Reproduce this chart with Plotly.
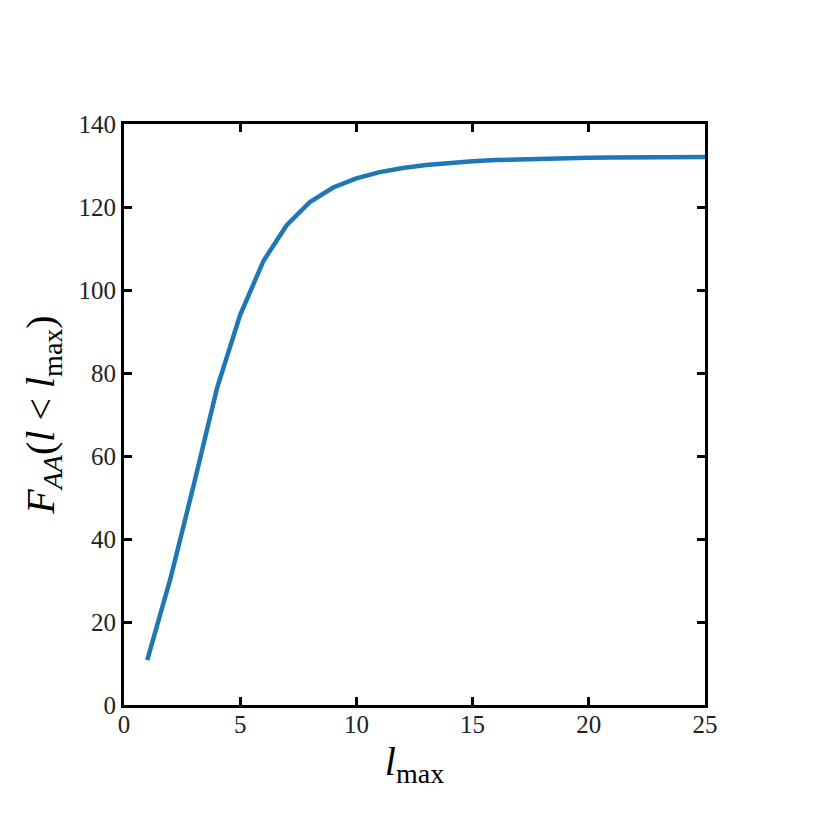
import plotly.graph_objects as go

l_max = list(range(1, 26))
F_AA = [10.8, 30.5, 53.0, 76.3, 94.0, 107.0, 115.6, 121.2, 124.7, 126.9,
        128.4, 129.4, 130.1, 130.6, 131.0, 131.3, 131.5, 131.65, 131.75, 131.85,
        131.9, 131.95, 132.0, 132.0, 132.05]

x_ticks = [0, 5, 10, 15, 20, 25]
y_ticks = [0, 20, 40, 60, 80, 100, 120, 140]

TFONT = "Liberation Serif, DejaVu Serif, serif"

fig = go.Figure()
fig.add_trace(go.Scatter(x=l_max, y=F_AA, mode="lines",
                         line=dict(color="#1f77b4", width=4.5),
                         showlegend=False))

axis_common = dict(
    showgrid=False, zeroline=False, showline=True, linecolor="black",
    linewidth=3, mirror="ticks", ticks="inside", ticklen=8, tickwidth=2.5,
    tickcolor="black", tickfont=dict(family=TFONT, size=25, color="#222"),
)

fig.update_layout(
    width=830, height=830,
    margin=dict(l=116, r=133, t=116, b=133),
    plot_bgcolor="white", paper_bgcolor="white",
    xaxis=dict(range=[0, 25], tickvals=x_ticks, ticklabelstandoff=-5,
               title=dict(text="<i>l</i><sub>max</sub>",
                          font=dict(family=TFONT, size=40, color="black"),
                          standoff=10),
               **axis_common),
    yaxis=dict(range=[0, 140], tickvals=y_ticks,
               title=dict(text="<i>F</i><sub><i>AA</i></sub>(<i>l</i> &lt; <i>l</i><sub>max</sub>)",
                          font=dict(family=TFONT, size=40, color="black"),
                          standoff=12),
               **axis_common),
)

fig.write_html("out.html")
